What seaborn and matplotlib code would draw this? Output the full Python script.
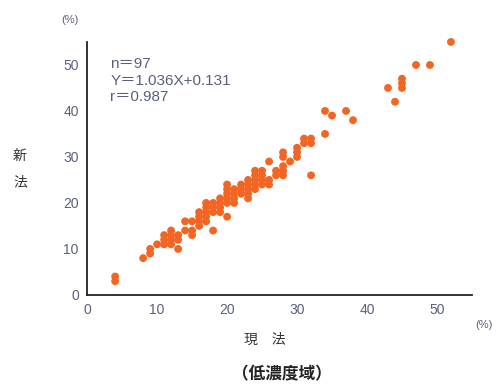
import numpy as np
import pandas as pd
import matplotlib
matplotlib.use("Agg")
import matplotlib.pyplot as plt
import seaborn as sns

# ── data ─────────────────────────────────────────────────────────────────────
genho = [4, 4, 8, 9, 9, 10, 11, 11, 11, 12, 12, 12, 13, 13, 13,
         14, 15, 14, 15, 15, 16, 16, 16, 16, 17, 17, 17, 17, 17,
         18, 18, 18, 18, 19, 19, 19, 19, 20, 20, 20, 20, 20, 20,
         21, 21, 21, 21, 22, 22, 22, 23, 23, 23, 23, 23, 24, 24, 24, 24, 24,
         25, 25, 25, 25, 26, 26, 26, 27, 27, 28, 28, 28, 28, 28,
         29, 30, 30, 30, 31, 31, 32, 32, 32, 34, 34, 35, 37, 38,
         43, 44, 45, 45, 45, 47, 49, 52, 12]
shinho = [4, 3, 8, 10, 9, 11, 13, 12, 11, 14, 12, 11, 13, 12, 10,
          16, 16, 14, 14, 13, 18, 17, 16, 15, 20, 19, 18, 17, 16,
          20, 19, 18, 14, 21, 20, 19, 18, 24, 23, 22, 21, 20, 17,
          23, 22, 21, 20, 24, 23, 22, 25, 24, 23, 22, 21, 27, 26, 25, 24, 23,
          27, 26, 25, 24, 29, 24, 25, 27, 26, 31, 28, 27, 26, 30,
          29, 31, 32, 30, 33, 34, 34, 26, 33, 35, 40, 39, 40, 38,
          45, 42, 47, 46, 45, 50, 50, 55, 13]

x_ticks = [0, 10, 20, 30, 40, 50]
y_ticks = [0, 10, 20, 30, 40, 50]
stats = ["n＝97", "Y＝1.036X+0.131", "r＝0.987"]

df = pd.DataFrame({"現法": genho, "新法": shinho})

# ── style ────────────────────────────────────────────────────────────────────
sns.set_theme(style="white")
plt.rcParams["font.family"] = ["Liberation Sans", "Noto Sans CJK JP", "DejaVu Sans"]
TXT = "#5a5f80"
DOT = "#f26522"

fig = plt.figure(figsize=(5.01, 3.85), dpi=100)
ax = fig.add_axes([0.174, 0.234, 0.768, 0.657])

sns.scatterplot(data=df, x="現法", y="新法", ax=ax, color=DOT,
                s=32, edgecolor="none", legend=False, clip_on=False)

ax.set_xlim(0, 55)
ax.set_ylim(0, 55)
ax.set_xticks(x_ticks)
ax.set_yticks(y_ticks)
ax.tick_params(direction="in", length=5, width=1, color="#222222",
               labelsize=10, labelcolor=TXT, pad=6)
for s in ["top", "right"]:
    ax.spines[s].set_visible(False)
for s in ["left", "bottom"]:
    ax.spines[s].set_color("#222222")
    ax.spines[s].set_linewidth(1.3)
ax.set_xlabel("")
ax.set_ylabel("")

# regression stats
for i, t in enumerate(stats):
    ax.text(3.3, 50.2 - i * 3.6, t, fontsize=11, color=TXT, va="center")

# unit + axis labels
fig.text(70 / 501, 1 - 20 / 385, "(%)", fontsize=8, color=TXT, ha="center", va="center")
fig.text(484 / 501, 1 - 325 / 385, "(%)", fontsize=8, color=TXT, ha="center", va="center")
fig.text(20 / 501, 1 - 156 / 385, "新", fontsize=10, color="#333333", ha="center", va="center")
fig.text(20 / 501, 1 - 182 / 385, "法", fontsize=10, color="#333333", ha="center", va="center")
fig.text(265 / 501, 1 - 340 / 385, "現　法", fontsize=10, color="#333333", ha="center", va="center")
fig.text(282 / 501, 1 - 374 / 385, "（低濃度域）", fontsize=12, fontweight="bold",
         color="#222222", ha="center", va="center")

fig.savefig("out.png", dpi=100)
